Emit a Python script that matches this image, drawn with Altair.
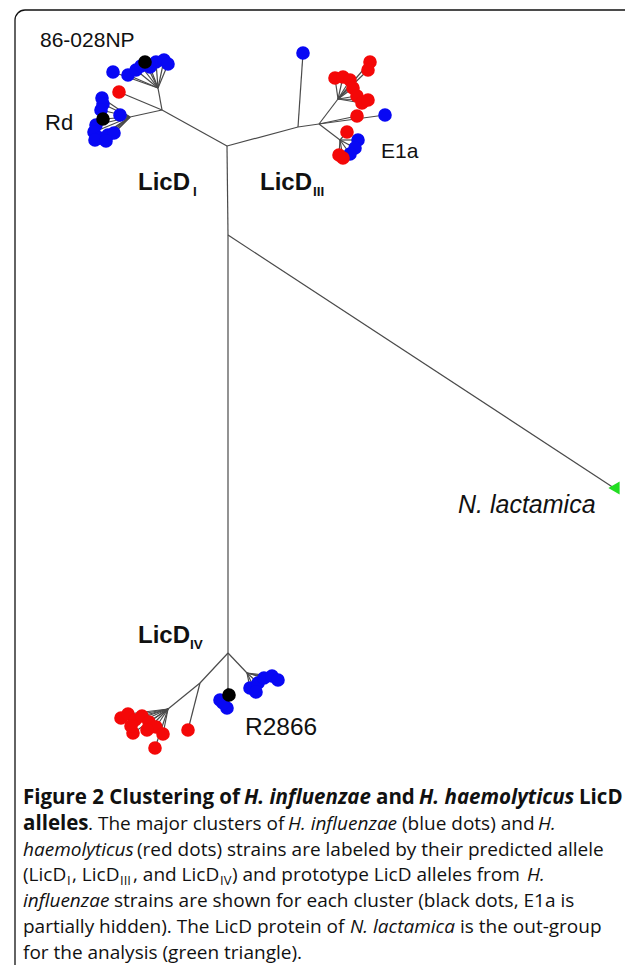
import altair as alt
import pandas as pd

# ---------------- tree layout (page-pixel coordinates) ----------------
node_names = ["A", "B", "C", "D", "E", "R", "F", "G", "H", "I", "J", "K", "L", "M"]
node_x = [227, 228, 228, 162, 158, 130, 298, 319, 338, 340, 200, 168, 247, 228]
node_y = [146, 235, 653, 110, 88, 117, 127, 124, 99, 140, 683, 709, 673, 688]
node_parent = [None, "A", "B", "A", "D", "D", "A", "F", "G", "G", "C", "J", "C", "C"]

# leaves: position, parent node, group (blue = H. influenzae, red = H. haemolyticus,
# black = prototype allele, green = N. lactamica)
leaf_x = [113, 128, 136, 141, 156, 164, 168, 150, 145,
          119,
          102, 103, 101, 120, 96, 94, 100, 108, 114, 95, 106, 103,
          303,
          335, 343, 350, 370, 368, 353, 357, 362, 368,
          357, 385,
          347, 358, 355, 350, 343, 339,
          121, 128, 135, 142, 149, 156, 163, 133, 155, 131, 147,
          188,
          220, 227, 223, 229,
          250, 258, 264, 272, 278, 256,
          614]
leaf_y = [72, 75, 70, 66, 62, 60, 64, 67, 62,
          92,
          98, 104, 110, 115, 125, 132, 138, 135, 133, 140, 141, 119,
          53,
          78, 77, 80, 62, 70, 88, 96, 103, 100,
          116, 115,
          132, 140, 148, 154, 158, 155,
          718, 714, 720, 716, 722, 727, 734, 733, 748, 726, 730,
          730,
          700, 708, 703, 695,
          688, 683, 678, 676, 680, 692,
          488]
leaf_parent = ["E"] * 9 + ["D"] + ["R"] * 12 + ["F"] + ["H"] * 9 + ["G"] * 2 + ["I"] * 6 + \
              ["K"] * 11 + ["J"] + ["M"] * 4 + ["L"] * 6 + ["B"]
leaf_group = ["blue"] * 8 + ["black"] + ["red"] + ["blue"] * 11 + ["black"] + ["blue"] + \
             ["red"] * 9 + ["red", "blue"] + ["red", "blue", "blue", "blue", "red", "red"] + \
             ["red"] * 11 + ["red"] + ["blue"] * 3 + ["black"] + ["blue"] * 6 + ["green"]

# ---------------- labels ----------------
lab_text = ["86-028NP", "Rd", "E1a", "R2866", "N. lactamica",
            "LicD", "I", "LicD", "III", "LicD", "IV"]
lab_x = [40, 45, 381, 245, 458, 138, 193, 260, 313, 138, 190]
lab_y = [47, 130, 158, 735, 513, 190, 196, 190, 196, 643, 649]
lab_size = [21, 22, 21, 24.5, 25, 24, 13.5, 24, 13.5, 24, 13.5]
lab_weight = ["normal"] * 5 + ["bold"] * 6
lab_style = ["normal"] * 4 + ["italic"] + ["normal"] * 6

# ---------------- caption ----------------
cap_text = ["Figure 2 Clustering of", "H. influenzae", "and", "H. haemolyticus", "LicD",
            "alleles", ". The major clusters of", "H. influenzae", "(blue dots) and", "H.",
            "haemolyticus", "(red dots) strains are labeled by their predicted allele",
            "(LicD", "I", ", LicD", "III", ", and LicD", "IV", ") and prototype LicD alleles from", "H.",
            "influenzae", "strains are shown for each cluster (black dots, E1a is",
            "partially hidden). The LicD protein of", "N. lactamica", "is the out-group",
            "for the analysis (green triangle)."]
cap_x = [23, 244, 376, 419, 579,
         23, 88, 288, 402, 538,
         23, 137,
         23, 67, 72, 120, 133, 220, 232, 527,
         23, 114,
         23, 350, 460,
         23]
cap_line = [0] * 5 + [1] * 5 + [2] * 2 + [3] * 8 + [4] * 2 + [5] * 3 + [6]
cap_sub = [0] * 13 + [1, 0, 1, 0, 1, 0, 0] + [0] * 6
cap_weight = ["bold"] * 6 + ["normal"] * 20
cap_style = ["normal", "italic", "normal", "italic", "normal",
             "normal", "normal", "italic", "normal", "italic",
             "italic", "normal",
             "normal"] + ["normal"] * 6 + ["italic"] + \
            ["italic", "normal", "normal", "italic", "normal", "normal"]
line_baseline = [804, 830, 856, 881, 907, 933, 959]

# ---------------- build tables ----------------
pos = {n: (x, y) for n, x, y in zip(node_names, node_x, node_y)}
edges = []
for n, p in zip(node_names, node_parent):
    if p is not None:
        edges.append({"x": pos[p][0], "y": pos[p][1], "x2": pos[n][0], "y2": pos[n][1]})
for x, y, p in zip(leaf_x, leaf_y, leaf_parent):
    edges.append({"x": pos[p][0], "y": pos[p][1], "x2": x, "y2": y})
edges_df = pd.DataFrame(edges)

order = {"blue": 0, "red": 1, "black": 2, "green": 3}
leaves_df = pd.DataFrame({"x": leaf_x, "y": leaf_y, "group": leaf_group})
leaves_df["o"] = leaves_df["group"].map(order)
leaves_df = leaves_df.sort_values("o", kind="stable")

labels_df = pd.DataFrame({"text": lab_text, "x": lab_x, "y": lab_y, "size": lab_size,
                          "weight": lab_weight, "style": lab_style})

cap_df = pd.DataFrame({"text": cap_text, "x": cap_x, "line": cap_line, "sub": cap_sub,
                       "weight": cap_weight, "style": cap_style})
cap_df["y"] = [line_baseline[l] + (4 if s else 0) for l, s in zip(cap_df["line"], cap_df["sub"])]
cap_df["size"] = [13 if s else (20.5 if w == "bold" else 19)
                  for s, w in zip(cap_df["sub"], cap_df["weight"])]

W, H = 617, 957
xs = alt.Scale(domain=[8, 8 + W], nice=False, zero=False)
ys = alt.Scale(domain=[8, 8 + H], nice=False, zero=False, reverse=True)


def X(f):
    return alt.X(f, type="quantitative", scale=xs, axis=None)


def Y(f):
    return alt.Y(f, type="quantitative", scale=ys, axis=None)


frame = alt.Chart(pd.DataFrame({"a": [0]})).mark_rect(
    fillOpacity=0, stroke="#111", strokeWidth=1.3, cornerRadiusTopLeft=10, clip=True
).encode(x=alt.value(7), x2=alt.value(640), y=alt.value(2), y2=alt.value(1000))

tree = alt.Chart(edges_df).mark_rule(color="#4a4a4a", strokeWidth=1.2).encode(
    x=X("x"), y=Y("y"), x2="x2", y2="y2")

dots = alt.Chart(leaves_df[leaves_df.group != "green"]).mark_circle(size=185, opacity=1).encode(
    x=X("x"), y=Y("y"),
    color=alt.Color("group:N", legend=None,
                    scale=alt.Scale(domain=["blue", "red", "black"],
                                    range=["#0808f4", "#f40808", "#000000"])),
    order=alt.Order("o:Q"))

tri = alt.Chart(leaves_df[leaves_df.group == "green"]).mark_point(
    shape="triangle-left", filled=True, size=170, color="#22dd22", opacity=1).encode(
    x=X("x"), y=Y("y"))

label_layers = []
for (w, s), sub in labels_df.groupby(["weight", "style"]):
    label_layers.append(alt.Chart(sub).mark_text(
        align="left", baseline="alphabetic", font="Liberation Sans", color="#111",
        fontWeight=w, fontStyle=s).encode(
        x=X("x"), y=Y("y"), text="text:N", size=alt.Size("size:Q", scale=None)))

cap_layers = []
for (w, s), sub in cap_df.groupby(["weight", "style"]):
    cap_layers.append(alt.Chart(sub).mark_text(
        align="left", baseline="alphabetic", font="Open Sans", color="#111",
        fontWeight=w, fontStyle=s).encode(
        x=X("x"), y=Y("y"), text="text:N", size=alt.Size("size:Q", scale=None)))

chart = alt.layer(frame, tree, dots, tri, *label_layers, *cap_layers).properties(
    width=W, height=H, padding=0, autosize=alt.AutoSizeParams(type="none")
).configure_view(stroke=None)

chart.save("out.html", embed_options={"renderer": "svg", "actions": False})
